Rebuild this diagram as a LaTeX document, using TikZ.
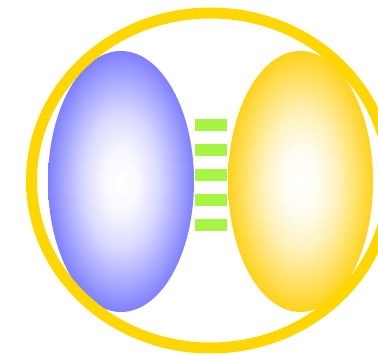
\documentclass[tikz,border=0pt]{standalone}
\usetikzlibrary{shapes.geometric}
\definecolor{ringgold}{HTML}{FFD700}
\definecolor{lobeblue}{HTML}{7F7FFF}
\definecolor{lobegold}{HTML}{FFD21A}
\definecolor{bargreen}{HTML}{A6F542}
\pgfdeclareradialshading{blueglow}{\pgfpoint{0bp}{0bp}}{%
  color(0bp)=(white);
  color(6bp)=(lobeblue!6!white);
  color(13bp)=(lobeblue!30!white);
  color(20bp)=(lobeblue!70!white);
  color(25bp)=(lobeblue);
  color(50bp)=(lobeblue)}
\pgfdeclareradialshading{goldglow}{\pgfpoint{0bp}{0bp}}{%
  color(0bp)=(white);
  color(6bp)=(lobegold!6!white);
  color(13bp)=(lobegold!30!white);
  color(20bp)=(lobegold!70!white);
  color(25bp)=(lobegold);
  color(50bp)=(lobegold)}
\begin{document}
\begin{tikzpicture}[x=1pt,y=-1pt,
  lobe/.style={ellipse,inner sep=0pt,minimum width=146pt,minimum height=261pt},
  bar/.style={rectangle,fill=bargreen,draw=none,inner sep=0pt,minimum width=32pt,minimum height=12pt},
  ring/.style={ellipse,draw=ringgold,line width=11pt,inner sep=0pt,minimum width=358pt,minimum height=335pt}]
\useasboundingbox (0,0) rectangle (378,355);
\node[lobe,shading=blueglow] (left) at (121,181.5) {};
\node[lobe,shading=goldglow,minimum width=145pt] (right) at (300.5,181.5) {};
\node[bar] (b1) at (211,125.5) {};
\node[bar] (b2) at (211,150.5) {};
\node[bar] (b3) at (211,175.5) {};
\node[bar] (b4) at (211,200.5) {};
\node[bar] (b5) at (211,225.5) {};
\node[ring] (outer) at (210.5,180.5) {};
\end{tikzpicture}
\end{document}
